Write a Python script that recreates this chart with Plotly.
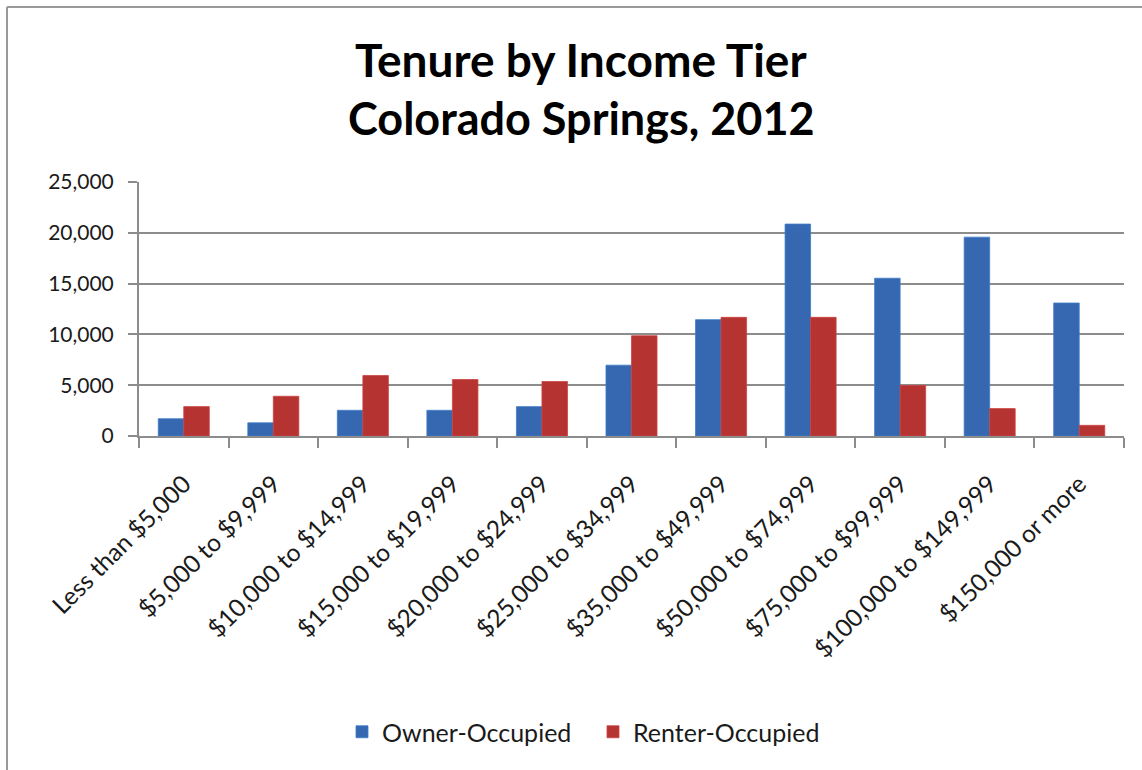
import plotly.graph_objects as go

# Household counts by income tier, Colorado Springs 2012
income_tiers = [
    "Less than $5,000", "$5,000 to $9,999", "$10,000 to $14,999",
    "$15,000 to $19,999", "$20,000 to $24,999", "$25,000 to $34,999",
    "$35,000 to $49,999", "$50,000 to $74,999", "$75,000 to $99,999",
    "$100,000 to $149,999", "$150,000 or more",
]
owner_occupied = [1700, 1300, 2530, 2530, 2890, 6970, 11450, 20860, 15530, 19570, 13090]
renter_occupied = [2890, 3910, 5950, 5560, 5360, 9870, 11680, 11680, 4970, 2700, 1050]

y_tick_values = [0, 5000, 10000, 15000, 20000, 25000]
y_tick_labels = ["0", "5,000", "10,000", "15,000", "20,000", "25,000"]

W, H = 1142, 770
L, R, T, B = 139, 18, 182, 334
pw, ph = W - L - R, H - T - B

font_family = "Lato, 'Open Sans', sans-serif"

fig = go.Figure()
fig.add_trace(go.Bar(
    x=income_tiers, y=owner_occupied, name="Owner-Occupied",
    marker=dict(color="#3568b0", line=dict(color="#3d7cc9", width=0.8)),
))
fig.add_trace(go.Bar(
    x=income_tiers, y=renter_occupied, name="Renter-Occupied",
    marker=dict(color="#b53432", line=dict(color="#cc4240", width=0.8)),
))

def px_x(v):
    return (v - L) / pw

def px_y(v):
    return (H - B - v) / ph

# Outer chart frame (left and top edges)
fig.add_shape(type="line", xref="paper", yref="paper",
              x0=px_x(7), x1=px_x(7), y0=px_y(7), y1=px_y(H + 5),
              line=dict(color="#9a9a9a", width=2))
fig.add_shape(type="line", xref="paper", yref="paper",
              x0=px_x(7), x1=px_x(W + 5), y0=px_y(7), y1=px_y(7),
              line=dict(color="#9a9a9a", width=2))

# Two-line chart title
fig.add_annotation(text="<b>Tenure by Income Tier</b>", xref="paper", yref="paper",
                   x=px_x(581), y=px_y(60), xanchor="center", yanchor="middle",
                   showarrow=False,
                   font=dict(family=font_family, size=46, color="#000000"))
fig.add_annotation(text="<b>Colorado Springs, 2012</b>", xref="paper", yref="paper",
                   x=px_x(581), y=px_y(118), xanchor="center", yanchor="middle",
                   showarrow=False,
                   font=dict(family=font_family, size=45, color="#000000"))

fig.update_layout(
    width=W, height=H,
    margin=dict(l=L, r=R, t=T, b=B),
    paper_bgcolor="white", plot_bgcolor="white",
    barmode="group", bargap=0.43, bargroupgap=0,
    font=dict(family=font_family, size=23, color="#1a1a1a"),
    showlegend=True,
    legend=dict(orientation="h", x=px_x(593), xanchor="center",
                y=px_y(732), yanchor="middle",
                font=dict(size=25, color="#1a1a1a"),
                itemwidth=30, entrywidth=206, tracegroupgap=0),
)
fig.update_xaxes(
    tickangle=-45, showline=True, linecolor="#8c8c8c", linewidth=2,
    ticks="outside", ticklen=10, tickcolor="#8c8c8c", tickwidth=2,
    tickson="boundaries", showgrid=False, ticklabelstandoff=22,
    tickfont=dict(size=24.5, color="#1a1a1a"),
)
fig.update_yaxes(
    range=[0, 25000], tickvals=y_tick_values, ticktext=y_tick_labels,
    showline=True, linecolor="#8c8c8c", linewidth=2,
    ticks="outside", ticklen=9, tickcolor="#8c8c8c", tickwidth=2,
    showgrid=True, gridcolor="#8c8c8c", gridwidth=2, ticklabelstandoff=10,
    tickfont=dict(size=21, color="#1a1a1a"), zeroline=False,
)

fig.write_html("out.html")
